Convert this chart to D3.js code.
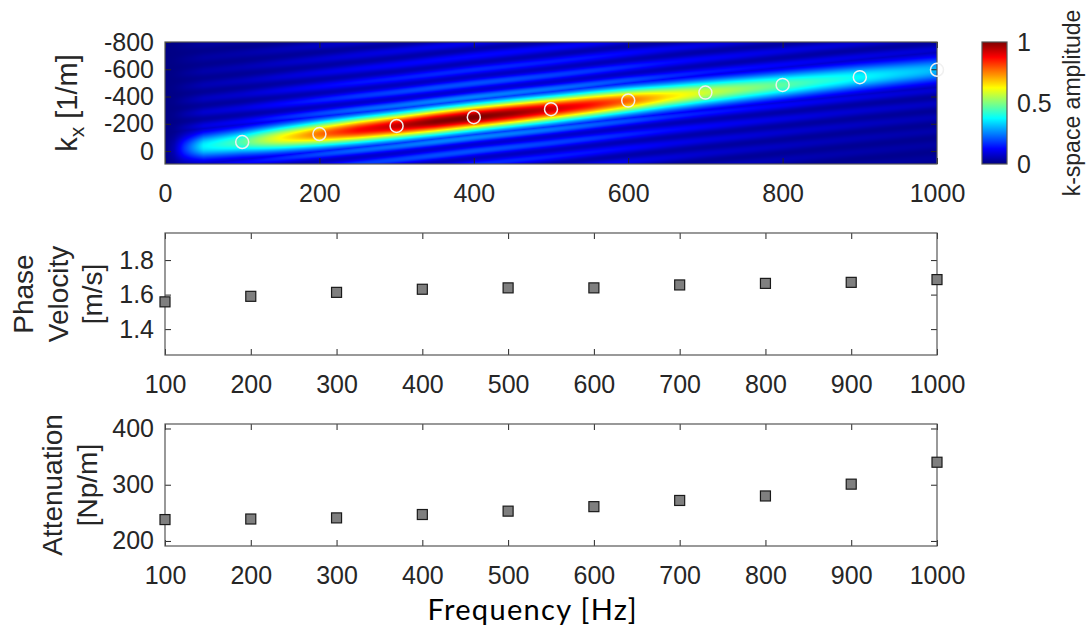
<!DOCTYPE html>
<html><head><meta charset="utf-8">
<script src="https://cdn.jsdelivr.net/npm/d3@7"></script>
<style>
body{margin:0;background:#fff}
svg{display:block}
text{font-family:"Liberation Sans",Arial,Helvetica,sans-serif;fill:#262626}
</style>
</head><body>
<svg id="chart" width="1089" height="628"></svg>
<script>
// ---------- data ----------
const freqs = [100,200,300,400,500,600,700,800,900,1000];
const kxPeak = [-66,-125,-184,-248,-307,-370,-429,-485,-542,-596];
const phaseVelocity = [1.558,1.590,1.613,1.631,1.639,1.639,1.656,1.665,1.671,1.687];
const attenuation = [238,239,241,247,253,261,272,280,301,340];
// ridge amplitude of the k-space map along frequency
const ampFreq = [0,12,25,50,100,150,200,250,300,350,400,450,500,550,600,650,700,750,800,850,900,950,1000];
const ampPeak = [0,0.05,0.17,0.36,0.45,0.62,0.76,0.87,0.93,0.99,1.0,0.97,0.92,0.86,0.77,0.65,0.57,0.51,0.46,0.41,0.37,0.33,0.30];
// tick labels
const kTicks = [0,-200,-400,-600,-800];
const fTicksTop = [0,200,400,600,800,1000];
const fTicks = [100,200,300,400,500,600,700,800,900,1000];
const vTicks = [1.4,1.6,1.8];
const aTicks = [200,300,400];
const cbTicks = [0,0.5,1];

// ---------- layout ----------
const svg = d3.select("#chart");
svg.append("rect").attr("width",1089).attr("height",628).attr("fill","#fff");
const X0 = 165, X1 = 937;
const P1 = {t:42, b:164};
const P2 = {t:233, b:355};
const P3 = {t:424, b:546};
const TF = 25;

const jet = v => {
  v = Math.max(0, Math.min(1, v));
  const c = t => Math.round(255*Math.max(0, Math.min(1, 1.5 - Math.abs(4*v - t))));
  return [c(3), c(2), c(1)];
};

function box(g, x, y, xt, yt, yFmt, xFmt){
  const w = X1-X0, top = y.range()[1], bot = y.range()[0];
  const ax = g.append("g").attr("transform",`translate(0,${bot})`)
    .call(d3.axisBottom(x).tickValues(xt).tickSize(-6).tickPadding(20).tickFormat(xFmt));
  const axT = g.append("g").attr("transform",`translate(0,${top})`)
    .call(d3.axisTop(x).tickValues(xt).tickSize(-6).tickFormat(""));
  const ay = g.append("g").attr("transform",`translate(${X0},0)`)
    .call(d3.axisLeft(y).tickValues(yt).tickSize(-6).tickPadding(11).tickFormat(yFmt));
  const ayR = g.append("g").attr("transform",`translate(${X1},0)`)
    .call(d3.axisRight(y).tickValues(yt).tickSize(-6).tickFormat(""));
  [ax,axT,ay,ayR].forEach(a=>{
    a.select(".domain").remove();
    a.selectAll(".tick line").attr("stroke","#262626").attr("stroke-width",1);
    a.selectAll("text").attr("font-size",TF).attr("fill","#262626")
      .style("font-family",'"Liberation Sans",Arial,sans-serif');
  });
  g.append("rect").attr("x",X0).attr("y",top).attr("width",w).attr("height",bot-top)
    .attr("fill","none").attr("stroke","#555").attr("stroke-width",1.2);
}

// ---------- panel 1 : k-space map ----------
const x1 = d3.scaleLinear().domain([0,1000]).range([X0,X1]);
const y1 = d3.scaleLinear().domain([95,-800]).range([P1.b,P1.t]);
const ridge = d3.scaleLinear().domain(freqs).range(kxPeak);       // ridge centre (extrapolated below 100 Hz)
const amp = d3.scaleLinear().domain(ampFreq).range(ampPeak).clamp(true);

const W = X1-X0, H = P1.b-P1.t;
const cv = document.createElement("canvas");
cv.width = W; cv.height = H;
const ctx = cv.getContext("2d");
const img = ctx.createImageData(W,H);
const sigma = 70, period = 100;
for(let i=0;i<W;i++){
  const f = x1.invert(X0+i+0.5);
  const A = amp(f), kc = ridge(f);
  for(let j=0;j<H;j++){
    const k = y1.invert(P1.t+j+0.5);
    const d = k-kc, ad = Math.abs(d);
    const main = Math.exp(-d*d/(2*sigma*sigma));
    const env = 0.25*Math.exp(-Math.max(ad-150,0)/430);
    const side = env*(0.35+0.65*0.5*(1-Math.cos(2*Math.PI*ad/period))) * (ad<60?0:1);
    const v = A*Math.max(main, side) + 0.005;
    const [r,g,b] = jet(v);
    const p = 4*(j*W+i);
    img.data[p]=r; img.data[p+1]=g; img.data[p+2]=b; img.data[p+3]=255;
  }
}
ctx.putImageData(img,0,0);
svg.append("image").attr("x",X0).attr("y",P1.t).attr("width",W).attr("height",H)
  .attr("preserveAspectRatio","none").attr("href",cv.toDataURL());

box(svg.append("g"), x1, y1, fTicksTop, kTicks, d=>String(d), d=>String(d));

svg.append("g").selectAll("circle").data(freqs).join("circle")
  .attr("cx",(d)=>x1(d)).attr("cy",(d,i)=>y1(kxPeak[i])).attr("r",6.5)
  .attr("fill","none").attr("stroke","#f0f0f0").attr("stroke-width",1.5);

// y label
svg.append("text").attr("transform",`translate(77,103) rotate(-90)`).attr("text-anchor","middle")
  .attr("font-size",29)
  .call(t=>{ t.append("tspan").text("k");
    t.append("tspan").attr("font-size",21).attr("dy",7).text("x");
    t.append("tspan").attr("dy",-7).text(" [1/m]"); });

// colorbar
const cbX = 982, cbW = 25;
const cbY = d3.scaleLinear().domain([0,1]).range([P1.b,P1.t]);
const grad = svg.append("defs").append("linearGradient").attr("id","jetg")
  .attr("x1",0).attr("y1",1).attr("x2",0).attr("y2",0);
d3.range(0,1.0001,1/64).forEach(t=>{
  const [r,g,b]=jet(t);
  grad.append("stop").attr("offset",t).attr("stop-color",`rgb(${r},${g},${b})`);
});
svg.append("rect").attr("x",cbX).attr("y",P1.t).attr("width",cbW).attr("height",P1.b-P1.t)
  .attr("fill","url(#jetg)").attr("stroke","#555").attr("stroke-width",1.2);
const cba = svg.append("g").attr("transform",`translate(${cbX+cbW},0)`)
  .call(d3.axisRight(cbY).tickValues(cbTicks).tickSize(0).tickPadding(10).tickFormat(d=>String(d)));
cba.select(".domain").remove();
cba.selectAll("text").attr("font-size",TF).attr("fill","#262626");
svg.append("text").attr("transform",`translate(1080,103) rotate(-90)`).attr("text-anchor","middle")
  .attr("font-size",23).text("k-space amplitude");

// ---------- panel 2 : phase velocity ----------
const x2 = d3.scaleLinear().domain([100,1000]).range([X0,X1]);
const y2 = d3.scaleLinear().domain([1.25,1.957]).range([P2.b,P2.t]);
box(svg.append("g"), x2, y2, fTicks, vTicks, d=>d.toFixed(1), d=>String(d));
svg.append("g").selectAll("rect").data(freqs).join("rect")
  .attr("x",d=>x2(d)-5).attr("y",(d,i)=>y2(phaseVelocity[i])-5).attr("width",10).attr("height",10)
  .attr("fill","#7f7f7f").attr("stroke","#1a1a1a").attr("stroke-width",1.2);
const yl2 = svg.append("text").attr("text-anchor","middle").attr("font-size",28)
  .attr("transform","translate(0,294) rotate(-90)");
[["Phase",33],["Velocity",68],["[m/s]",102]].forEach(([s,xx])=>
  yl2.append("tspan").attr("x",0).attr("y",xx).text(s));

// ---------- panel 3 : attenuation ----------
const y3 = d3.scaleLinear().domain([191,408]).range([P3.b,P3.t]);
box(svg.append("g"), x2, y3, fTicks, aTicks, d=>String(d), d=>String(d));
svg.append("g").selectAll("rect").data(freqs).join("rect")
  .attr("x",d=>x2(d)-5).attr("y",(d,i)=>y3(attenuation[i])-5).attr("width",10).attr("height",10)
  .attr("fill","#7f7f7f").attr("stroke","#1a1a1a").attr("stroke-width",1.2);
const yl3 = svg.append("text").attr("text-anchor","middle").attr("font-size",28)
  .attr("transform","translate(0,485) rotate(-90)");
[["Attenuation",62],["[Np/m]",97]].forEach(([s,xx])=>
  yl3.append("tspan").attr("x",0).attr("y",xx).text(s));

svg.append("text").attr("x",532).attr("y",620).attr("text-anchor","middle")
  .style("font-family",'Lato,"Open Sans",sans-serif').style("fill","#000")
  .attr("font-size",29).attr("textLength",209).attr("lengthAdjust","spacing")
  .text("Frequency [Hz]");
</script>
</body></html>
